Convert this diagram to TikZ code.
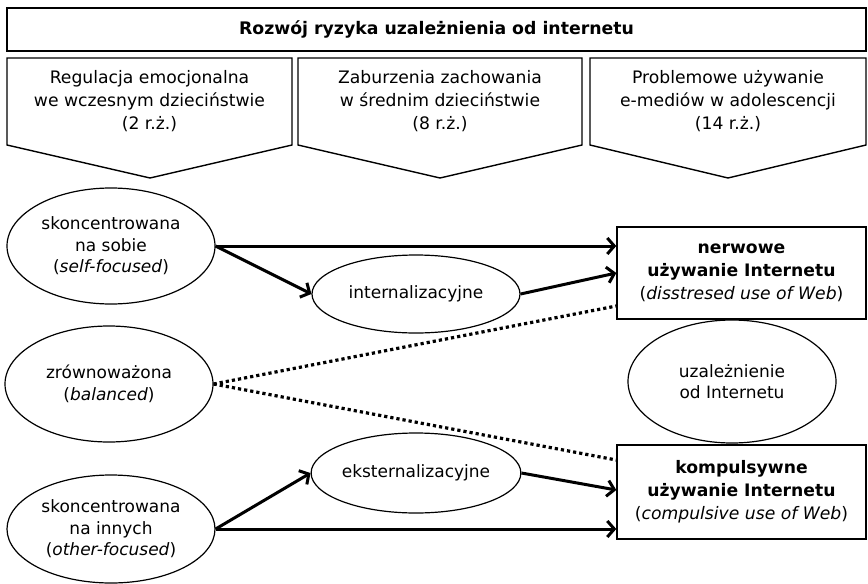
\documentclass[tikz,border=0pt]{standalone}
\usepackage{fontspec}
\setmainfont{DejaVu Sans}
\usetikzlibrary{arrows.meta,shapes.geometric}
\begin{document}
\begin{tikzpicture}[x=1pt,y=-1pt,
  frame/.style={draw,line width=1.4pt},
  oval/.style={draw,ellipse,line width=1.2pt,inner sep=0pt,align=center,
    minimum width=208pt,font=\fontsize{17}{21.5}\selectfont},
  outbox/.style={draw,rectangle,line width=1.4pt,inner sep=0pt,align=center,
    minimum width=249pt,font=\fontsize{17.2}{23}\selectfont},
  band/.style={align=center,font=\fontsize{17.2}{23}\selectfont},
  link/.style={line width=3pt,-{Straight Barb[length=7pt,width=16pt,line width=3pt]}},
  tie/.style={line width=3.2pt,dash pattern=on 3.2pt off 3pt}]
\useasboundingbox (0,0) rectangle (868,584);

% title bar
\node[frame,rectangle,minimum width=859pt,minimum height=43pt,inner sep=0pt,
  font=\fontsize{17.3}{20}\selectfont\bfseries] (title) at (436.5,29.5)
  {Rozwój ryzyka uzależnienia od internetu};

% three stage arrows
\draw[frame,line join=miter] (7,58) -- (292,58) -- (292,145) -- (150,178) -- (7,145) -- cycle;
\draw[frame,line join=miter] (298,58) -- (582,58) -- (582,145) -- (440,178) -- (298,145) -- cycle;
\draw[frame,line join=miter] (590,58) -- (866,58) -- (866,145) -- (728,178) -- (590,145) -- cycle;
\node[band] (st1) at (149.5,101) {Regulacja emocjonalna\\we wczesnym dzieciństwie\\(2 r.ż.)};
\node[band] (st2) at (440,101) {Zaburzenia zachowania\\w średnim dzieciństwie\\(8 r.ż.)};
\node[band] (st3) at (728,101) {Problemowe używanie\\e-mediów w adolescencji\\(14 r.ż.)};

% regulation styles
\node[oval,minimum height=116pt] (self) at (111,246) {skoncentrowana\\na sobie\\(\textit{self-focused})};
\node[oval,minimum height=116pt] (bal) at (109,384) {zrównoważona\\(\textit{balanced})};
\node[oval,minimum height=108pt] (oth) at (111,529) {skoncentrowana\\na innych\\(\textit{other-focused})};

% behaviour problems
\node[oval,minimum height=78pt] (int) at (416,294) {internalizacyjne};
\node[oval,minimum height=80pt] (eks) at (416,473) {eksternalizacyjne};

% outcomes
\node[outbox,minimum height=92pt] (nerw) at (741.5,273)
  {\textbf{nerwowe}\\\textbf{używanie Internetu}\\(\textit{disstresed use of Web})};
\node[oval,minimum height=123pt] (add) at (732,381.5) {uzależnienie\\od Internetu};
\node[outbox,minimum height=94pt] (komp) at (741.5,492)
  {\textbf{kompulsywne}\\\textbf{używanie Internetu}\\(\textit{compulsive use of Web})};

% connectors
\draw[link] (self.east) -- (self.east -| nerw.west);
\draw[link] (self.east) -- (int.west);
\draw[link] (int.east) -- (nerw.west);
\draw[tie] (bal.east) -- ([yshift=-33pt]nerw.west);
\draw[tie] (bal.east) -- ([yshift=32pt]komp.west);
\draw[link] (eks.east) -- ([yshift=2pt]komp.west);
\draw[link] (oth.east) -- (oth.east -| komp.west);
\draw[link] (oth.east) -- (eks.west);
\end{tikzpicture}
\end{document}
